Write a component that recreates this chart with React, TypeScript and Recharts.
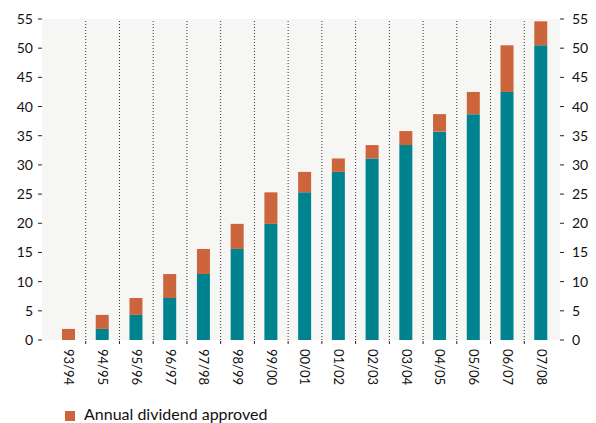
import { ComposedChart, Bar, Line, XAxis, YAxis, CartesianGrid, Legend, ReferenceLine } from "recharts";

const years = ["93/94", "94/95", "95/96", "96/97", "97/98", "98/99", "99/00", "00/01", "01/02", "02/03", "03/04", "04/05", "05/06", "06/07", "07/08"];
const priorTotal = [0, 1.9, 4.3, 7.2, 11.3, 15.6, 19.9, 25.3, 28.8, 31.1, 33.4, 35.7, 38.7, 42.5, 50.5];
const annualDividend = [1.9, 2.4, 2.9, 4.1, 4.3, 4.3, 5.4, 3.5, 2.3, 2.3, 2.4, 3.0, 3.8, 8.0, 4.1];
const yTicks = [0, 5, 10, 15, 20, 25, 30, 35, 40, 45, 50, 55];

const data = years.map((year, i) => ({
  year,
  prior: priorTotal[i],
  annual: annualDividend[i],
}));

const font = "Lato, 'Open Sans', sans-serif";

function YearTick({ x, y, payload, index }: any) {
  const half = payload.offset ?? 0;
  return (
    <g transform={`translate(${x},${y})`}>
      {index > 0 && half > 0 && (
        <line x1={-half} x2={-half} y1={1} y2={4} stroke="#222" />
      )}
      <text
        transform="rotate(90)"
        x={9}
        y={0}
        dy="0.35em"
        textAnchor="start"
        fontSize={13}
        fontFamily={font}
        fill="#111"
      >
        {payload.value}
      </text>
    </g>
  );
}

export default function App() {
  return (
    <ComposedChart
      width={588}
      height={415}
      data={data}
      margin={{ top: 11, right: 0, bottom: 0, left: 0 }}
      style={{ fontFamily: font }}
    >
      <CartesianGrid horizontal={false} vertical={false} fill="#f6f6f4" />
      {years.slice(1).map((year) => (
        <ReferenceLine
          key={year}
          yAxisId="left"
          x={year}
          position="start"
          stroke="#333"
          strokeDasharray="1 2"
        />
      ))}
      <XAxis
        dataKey="year"
        padding={{ left: 10, right: 2 }}
        height={64}
        axisLine={false}
        tickLine={false}
        tickSize={0}
        tickMargin={0}
        interval={0}
        tick={<YearTick />}
      />
      <YAxis
        yAxisId="left"
        domain={[0, 55]}
        ticks={yTicks}
        width={34}
        axisLine={false}
        tickSize={4}
        tickMargin={5}
        tickLine={{ stroke: "#222" }}
        tick={{ fontSize: 14, fill: "#111", fontFamily: font }}
      />
      <YAxis
        yAxisId="right"
        orientation="right"
        domain={[0, 55]}
        ticks={yTicks}
        width={36}
        axisLine={false}
        tickSize={4}
        tickMargin={8}
        tickLine={{ stroke: "#222" }}
        tick={{ fontSize: 14, fill: "#111", fontFamily: font, textAnchor: "start" }}
      />
      <Legend
        verticalAlign="bottom"
        align="left"
        iconType="square"
        iconSize={10}
        wrapperStyle={{ left: 57, fontSize: 16, fontFamily: font }}
        formatter={(value: string) => (
          <span style={{ color: "#111", paddingLeft: 5 }}>{value}</span>
        )}
      />
      <Bar
        yAxisId="left"
        dataKey="prior"
        stackId="a"
        fill="#00838f"
        barSize={13}
        legendType="none"
        isAnimationActive={false}
      />
      <Bar
        yAxisId="left"
        dataKey="annual"
        name="Annual dividend approved"
        stackId="a"
        fill="#cc653b"
        barSize={13}
        isAnimationActive={false}
      />
      {/* invisible series so the mirrored right axis gets drawn */}
      <Line
        yAxisId="right"
        dataKey="prior"
        stroke="none"
        dot={false}
        activeDot={false}
        legendType="none"
        isAnimationActive={false}
      />
    </ComposedChart>
  );
}
